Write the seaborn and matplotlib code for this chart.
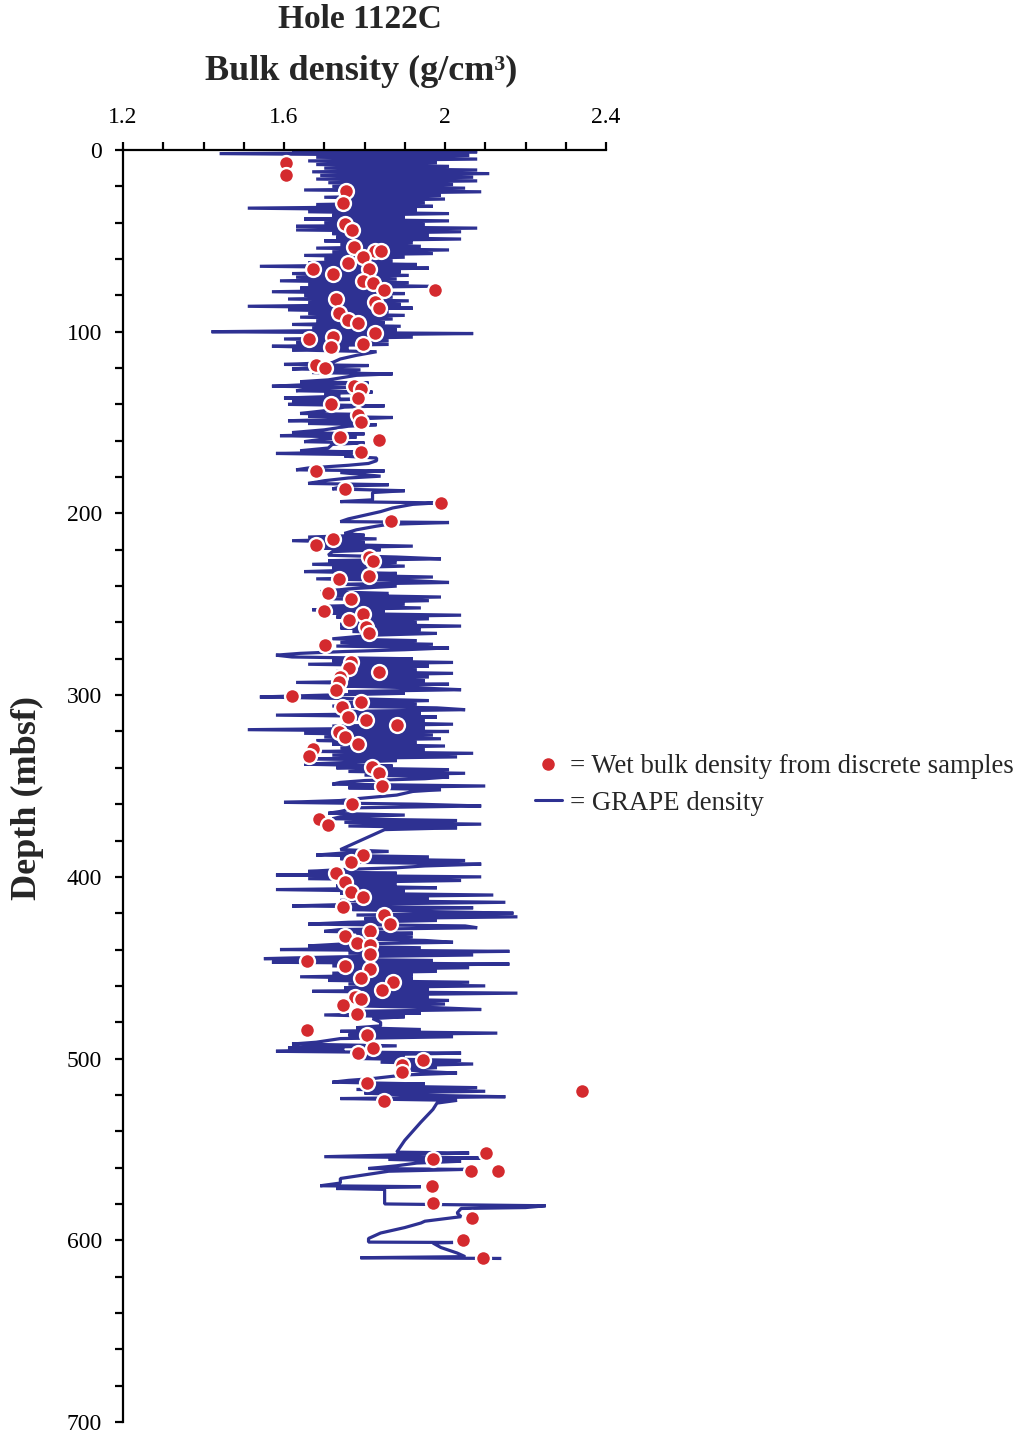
import matplotlib
matplotlib.use("Agg")
import matplotlib.pyplot as plt
from matplotlib.lines import Line2D
import seaborn as sns

sns.set_theme(style="white")
plt.rcParams['font.family'] = ['Liberation Serif', 'DejaVu Serif']

RED = "#D42A2E"
BLUE = "#2E3192"

# ---------------- discrete samples (wet bulk density) ----------------
sample_depth = [7.2, 13.8, 22.4, 29.0, 40.7, 44.0, 53.4, 55.6, 55.6, 58.9,
                62.2, 65.5, 68.2, 65.5, 72.1, 73.2, 77.0, 77.0, 82.0, 83.7,
                87.0, 89.7, 93.6, 95.0, 100.5, 104.0, 102.9, 106.8, 108.4, 118.3,
                120.0, 129.9, 131.5, 136.5, 139.8, 145.8, 149.5, 157.9, 159.6, 166.2,
                176.5, 186.6, 194.3, 204.2, 214.1, 217.4, 224.0, 226.0, 234.4, 235.9,
                243.8, 247.1, 253.7, 255.4, 258.7, 262.3, 265.6, 272.4, 281.6, 284.9,
                287.1, 289.9, 292.8, 297.2, 300.5, 303.8, 306.5, 311.9, 313.7, 316.4,
                320.3, 323.0, 326.9, 329.6, 333.5, 339.6, 342.9, 350.0, 359.9, 368.2,
                371.5, 388.0, 391.7, 397.9, 402.9, 408.2, 411.1, 416.6, 420.8, 426.0,
                429.6, 432.4, 436.2, 437.5, 442.5, 446.2, 449.1, 450.7, 455.7, 457.7,
                462.3, 466.0, 467.2, 470.5, 475.5, 484.1, 487.1, 494.0, 497.0, 500.8,
                503.6, 507.2, 513.5, 517.9, 523.4, 551.8, 555.3, 561.7, 561.7, 570.2,
                579.3, 587.6, 599.9, 609.6]
sample_density = [1.605, 1.605, 1.753, 1.746, 1.752, 1.768, 1.774, 1.826, 1.841, 1.796,
                  1.759, 1.671, 1.722, 1.811, 1.796, 1.820, 1.848, 1.975, 1.729, 1.826,
                  1.836, 1.737, 1.759, 1.783, 1.826, 1.662, 1.722, 1.796, 1.717, 1.679,
                  1.701, 1.774, 1.791, 1.783, 1.716, 1.783, 1.791, 1.739, 1.836, 1.791,
                  1.679, 1.752, 1.990, 1.865, 1.722, 1.679, 1.810, 1.820, 1.811, 1.737,
                  1.709, 1.766, 1.699, 1.796, 1.761, 1.803, 1.811, 1.702, 1.766, 1.761,
                  1.836, 1.739, 1.737, 1.729, 1.619, 1.791, 1.744, 1.759, 1.804, 1.880,
                  1.737, 1.752, 1.783, 1.673, 1.662, 1.818, 1.835, 1.843, 1.768, 1.686,
                  1.709, 1.796, 1.766, 1.729, 1.752, 1.766, 1.796, 1.746, 1.848, 1.863,
                  1.814, 1.752, 1.781, 1.814, 1.814, 1.656, 1.752, 1.814, 1.791, 1.871,
                  1.843, 1.776, 1.791, 1.746, 1.781, 1.656, 1.805, 1.820, 1.783, 1.945,
                  1.893, 1.894, 1.805, 2.340, 1.848, 2.102, 1.969, 2.065, 2.132, 1.968,
                  1.969, 2.066, 2.044, 2.094]

# ---------------- GRAPE density trace (depth, density in drawing order) ----------------
grape_depth = [
    # 0-111 m
    0, 1, 2, 3, 4, 5, 6, 7, 8, 9,
    10, 11, 12, 13, 14, 15, 16, 17, 18, 19,
    20, 21, 22, 23, 24, 25, 26, 27, 28, 29,
    30, 31, 32, 33, 34, 35, 36, 37, 38, 39,
    40, 41, 42, 43, 44, 45, 46, 47, 48, 49,
    50, 51, 52, 53, 54, 55, 56, 57, 58, 59,
    60, 61, 62, 63, 64, 65, 66, 67, 68, 69,
    70, 71, 72, 73, 74, 75, 76, 77, 78, 79,
    80, 81, 82, 83, 84, 85, 86, 87, 88, 89,
    90, 91, 92, 93, 94, 95, 96, 97, 98, 99,
    100, 101, 102, 103, 104, 105, 106, 107, 108, 109,
    110, 111,
    # 113-206 m
    113, 115, 117, 118, 118.6, 119.5, 120.5, 121, 122.5, 123.2,
    124, 126.5, 127.5, 128.2, 129, 130, 130.6, 131.5, 132.5, 133.2,
    134, 135.5, 136.5, 137.2, 138, 139, 140, 140.8, 141.5, 143.5,
    145, 145.5, 146.5, 147.2, 148, 149, 149.6, 150.5, 151.2, 152,
    154, 155.5, 156.2, 157.2, 158, 159, 160.5, 161.2, 162, 164,
    165.5, 166.2, 167, 167.6, 168.5, 169.5, 171, 172.5, 173.5, 175,
    176, 176.6, 177.5, 179.5, 180.5, 182, 183.5, 184.2, 185, 186.5,
    187.5, 188.5, 192.5, 193.5, 194.2, 195, 197, 199, 201, 203,
    204.5, 205, 206,
    # 207-523 m
    207, 209, 211, 212, 213, 214, 215, 216, 217, 218,
    219, 220, 221, 223, 224, 225, 226, 227, 228, 229,
    230, 231, 232, 233, 234, 235, 236, 237, 238, 239,
    240, 241.5, 243, 244, 245, 246, 247, 248, 249, 250,
    251, 252, 253, 254, 255, 256, 257, 258, 259, 260,
    261, 262, 263, 264, 265, 266, 267, 269, 270, 271,
    272, 273, 274, 275, 276, 277, 278, 279, 280, 281,
    282, 283, 284, 285, 286, 287, 288, 289, 290, 291,
    292, 293, 294, 295, 296, 297, 298, 299, 300, 301,
    302, 303, 304, 305, 306, 307, 308, 309, 310, 311,
    312, 313, 314, 315, 316, 317, 318, 319, 320, 321,
    322, 323, 324, 325, 326, 327, 328, 329, 330, 331,
    332, 333, 334, 335, 336, 337, 338, 339, 340, 341,
    342, 343, 344, 345, 346, 347, 348, 349, 350, 351,
    352, 353, 355, 357, 358, 359, 360, 361, 362, 364,
    365, 366, 367, 368, 369, 370, 371, 372, 373, 374,
    377, 380, 383, 385, 386, 387, 388, 389, 390, 391,
    392, 393, 394, 395, 396, 397, 398, 399, 400, 401,
    402, 403, 404, 405, 406, 407, 408, 409, 410, 411,
    412, 413, 414, 415, 416, 417, 418, 419, 420, 421,
    422, 423, 424, 425, 426, 427, 428, 429, 430, 431,
    432, 433, 434, 435, 436, 437, 438, 439, 440, 441,
    442, 443, 444, 445, 446, 447, 448, 449, 450, 451,
    452, 453, 454, 455, 456, 457, 458, 459, 460, 461,
    462, 463, 464, 465, 466, 467, 468, 469, 470, 471,
    472, 473, 474, 475, 476, 477, 478, 480, 482, 483,
    484, 485, 486, 487, 488, 489, 491, 492, 493, 494,
    495, 496, 497, 498, 499, 500, 501, 502, 503, 504,
    505, 506, 507, 508, 509, 511, 512, 513, 514, 515,
    516, 517, 518, 519, 520, 521, 522, 523,
    # 524-610 m
    524.5, 528, 535, 540, 545, 551.5, 552, 553, 554, 554.7,
    555.5, 556.5, 557.5, 559, 560.5, 561, 562, 564, 566, 568.5,
    570, 570.5, 571.5, 572, 580, 581, 582, 582.5, 585, 587,
    589.5, 590.5, 593, 596, 599, 601, 601.2, 601.5, 604, 607,
    609, 609.6, 610,
]
grape_density = [
    # 0-111 m
    1.62, 2.08, 1.44, 2.06, 1.68, 2.08, 1.66, 1.98, 1.68, 2.01,
    1.70, 2.08, 1.67, 2.11, 1.69, 2.07, 1.68, 2.08, 1.71, 2.02,
    1.72, 2.05, 1.65, 2.09, 1.74, 1.99, 1.70, 2.00, 1.73, 1.95,
    1.68, 1.97, 1.51, 1.93, 1.66, 2.01, 1.72, 1.90, 1.65, 2.01,
    1.70, 1.95, 1.63, 2.08, 1.63, 2.04, 1.72, 1.96, 1.73, 2.04,
    1.70, 1.92, 1.74, 1.94, 1.68, 2.01, 1.72, 1.97, 1.65, 1.90,
    1.70, 1.87, 1.66, 1.93, 1.54, 1.96, 1.69, 1.89, 1.62, 1.91,
    1.63, 1.88, 1.59, 1.91, 1.66, 1.96, 1.64, 1.87, 1.57, 1.90,
    1.65, 1.87, 1.61, 1.91, 1.66, 1.89, 1.51, 1.92, 1.61, 1.86,
    1.66, 1.90, 1.64, 1.87, 1.68, 1.85, 1.62, 1.89, 1.67, 1.88,
    1.42, 2.07, 1.66, 1.92, 1.60, 1.86, 1.63, 1.86, 1.57, 1.76,
    1.62, 1.83,
    # 113-206 m
    1.78, 1.74, 1.72, 1.60, 1.81, 1.70, 1.62, 1.79, 1.67, 1.87,
    1.78, 1.71, 1.64, 1.81, 1.67, 1.57, 1.77, 1.66, 1.63, 1.82,
    1.70, 1.74, 1.60, 1.78, 1.62, 1.72, 1.61, 1.85, 1.75, 1.70,
    1.64, 1.80, 1.66, 1.87, 1.78, 1.61, 1.77, 1.66, 1.83, 1.76,
    1.70, 1.62, 1.80, 1.59, 1.78, 1.70, 1.65, 1.80, 1.72, 1.71,
    1.64, 1.79, 1.58, 1.77, 1.75, 1.83, 1.83, 1.81, 1.76, 1.66,
    1.63, 1.85, 1.74, 1.84, 1.76, 1.70, 1.66, 1.86, 1.75, 1.72,
    1.90, 1.82, 1.82, 1.74, 1.98, 1.92, 1.87, 1.84, 1.80, 1.76,
    1.74, 2.01, 1.86,
    # 207-523 m
    1.83, 1.78, 1.75, 1.80, 1.66, 1.83, 1.62, 1.80, 1.70, 1.92,
    1.68, 1.84, 1.72, 1.71, 1.88, 1.99, 1.71, 1.88, 1.67, 1.90,
    1.72, 1.81, 1.65, 1.88, 1.74, 1.97, 1.68, 1.92, 2.01, 1.74,
    1.88, 1.76, 1.69, 1.86, 1.73, 1.99, 1.72, 1.96, 1.75, 1.90,
    1.71, 1.94, 1.67, 1.85, 1.72, 2.04, 1.73, 1.96, 1.76, 1.93,
    1.74, 2.04, 1.74, 1.94, 1.77, 1.98, 1.82, 1.72, 1.93, 1.74,
    1.97, 1.73, 2.01, 1.90, 1.75, 1.64, 1.58, 1.62, 1.92, 1.72,
    2.02, 1.66, 1.96, 1.75, 1.93, 1.73, 2.02, 1.76, 1.96, 1.72,
    1.95, 1.63, 2.01, 1.74, 1.93, 2.04, 1.76, 1.90, 1.70, 1.54,
    1.78, 1.96, 1.76, 1.93, 1.72, 1.98, 2.05, 1.74, 1.94, 1.58,
    1.98, 1.76, 1.95, 1.79, 2.02, 1.72, 1.95, 1.51, 2.01, 1.65,
    1.97, 1.70, 1.99, 1.68, 1.93, 1.72, 2.00, 1.74, 1.95, 1.69,
    2.07, 1.72, 2.03, 1.68, 1.88, 1.76, 1.65, 1.87, 1.73, 2.01,
    1.76, 2.05, 1.80, 2.01, 1.95, 1.80, 1.74, 1.72, 2.10, 1.76,
    1.99, 1.92, 1.88, 1.78, 1.74, 1.60, 1.93, 2.09, 1.78, 1.74,
    1.71, 1.90, 1.74, 1.72, 2.03, 1.75, 2.09, 1.76, 2.03, 1.85,
    1.82, 1.79, 1.76, 1.74, 1.86, 1.74, 1.68, 1.96, 1.74, 2.05,
    1.78, 2.09, 1.95, 1.88, 1.74, 1.66, 1.88, 1.58, 2.09, 1.66,
    2.04, 1.74, 1.88, 1.73, 1.98, 1.58, 1.90, 1.74, 2.12, 1.76,
    1.96, 1.74, 2.15, 1.79, 1.62, 2.07, 1.77, 1.94, 2.17, 1.78,
    2.18, 1.80, 1.98, 1.76, 1.66, 2.05, 2.08, 1.74, 1.70, 1.92,
    1.78, 1.92, 1.74, 1.95, 2.02, 1.74, 1.66, 1.94, 1.59, 2.16,
    1.76, 2.07, 1.74, 1.55, 1.97, 1.57, 2.16, 1.72, 2.06, 1.74,
    1.98, 1.72, 1.92, 1.64, 1.92, 1.71, 2.06, 1.76, 2.10, 1.75,
    1.96, 1.67, 2.18, 1.78, 1.96, 1.80, 2.01, 1.76, 2.00, 1.78,
    1.98, 2.09, 1.78, 1.94, 1.70, 1.90, 1.82, 1.84, 1.84, 1.78,
    1.94, 1.74, 2.13, 1.76, 2.02, 1.74, 1.68, 1.62, 1.88, 1.61,
    1.75, 1.58, 2.04, 1.80, 1.90, 1.79, 2.04, 1.84, 2.07, 1.88,
    1.98, 1.90, 1.94, 2.03, 1.90, 1.82, 1.76, 1.72, 1.95, 1.80,
    2.08, 1.78, 2.10, 1.80, 1.90, 2.15, 1.74, 2.03,
    # 524-610 m
    1.98, 1.97, 1.94, 1.92, 1.90, 1.88, 2.06, 1.88, 1.70, 2.09,
    1.86, 2.04, 1.93, 1.88, 1.81, 2.05, 1.86, 1.80, 1.74, 1.74,
    1.69, 1.94, 1.73, 1.85, 1.85, 2.25, 2.20, 2.04, 2.03, 2.04,
    1.95, 1.94, 1.90, 1.84, 1.81, 1.81, 2.02, 1.97, 1.99, 2.03,
    2.05, 1.79, 2.14,
]
assert len(grape_depth) == len(grape_density), (len(grape_depth), len(grape_density))

x_ticks = [1.2, 1.3, 1.4, 1.5, 1.6, 1.7, 1.8, 1.9, 2.0, 2.1, 2.2, 2.3, 2.4]
x_labels = ["1.2", "", "", "", "1.6", "", "", "", "2", "", "", "", "2.4"]
y_ticks = list(range(0, 701, 20))
y_labels = [str(v) if v % 100 == 0 else "" for v in y_ticks]

# ---------------- figure ----------------
W, H = 1018, 1440
fig = plt.figure(figsize=(W / 100, H / 100), dpi=100)
ax = fig.add_axes([123 / W, 1 - 1422 / H, 483 / W, 1272 / H])
ax.set_facecolor("white")

sns.lineplot(x=grape_density, y=grape_depth, sort=False, estimator=None,
             color=BLUE, linewidth=2.3, ax=ax, zorder=2)
for ln in ax.lines:
    ln.set_solid_joinstyle("bevel")
    ln.set_solid_capstyle("butt")

sns.scatterplot(x=sample_density, y=sample_depth, s=115, color=RED,
                edgecolor="white", linewidth=1.7, ax=ax, zorder=3)

ax.set_xlim(1.2, 2.4)
ax.set_ylim(700, 0)
ax.xaxis.tick_top()
ax.set_xticks(x_ticks)
ax.set_xticklabels(x_labels)
ax.set_yticks(y_ticks)
ax.set_yticklabels(y_labels)
ax.tick_params(axis="x", direction="out", length=6, width=1.6, pad=10,
               labelsize=17, colors="black", top=True, bottom=False)
ax.tick_params(axis="y", direction="out", length=6, width=1.6, pad=9,
               labelsize=17, colors="black", left=True)
for side in ("right", "bottom"):
    ax.spines[side].set_visible(False)
for side in ("left", "top"):
    ax.spines[side].set_visible(True)
    ax.spines[side].set_color("black")
    ax.spines[side].set_linewidth(1.6)
ax.set_xlabel("")
ax.set_ylabel("")
ax.grid(False)

fig.text(360 / W, 1 - 20 / H, "Hole 1122C", ha="center", va="center",
         fontsize=24, fontweight="bold")
fig.text(361 / W, 1 - 71 / H, "Bulk density (g/cm³)", ha="center", va="center",
         fontsize=26, fontweight="bold")
fig.text(27 / W, 1 - 798 / H, "Depth (mbsf)", ha="center", va="center",
         rotation=90, fontsize=26, fontweight="bold")

handles = [
    Line2D([], [], marker="o", color=RED, linestyle="none", markersize=8),
    Line2D([], [], color=BLUE, linewidth=2.2),
]
labels = ["= Wet bulk density from discrete samples", "= GRAPE density"]
fig.legend(handles, labels, loc="center left",
           bbox_to_anchor=(535 / W, 1 - 785 / H), bbox_transform=fig.transFigure,
           frameon=False, fontsize=19.3, handlelength=1.0, handletextpad=0.3,
           labelspacing=0.42, borderpad=0, borderaxespad=0)

fig.savefig("out.png", dpi=100, facecolor="white")
